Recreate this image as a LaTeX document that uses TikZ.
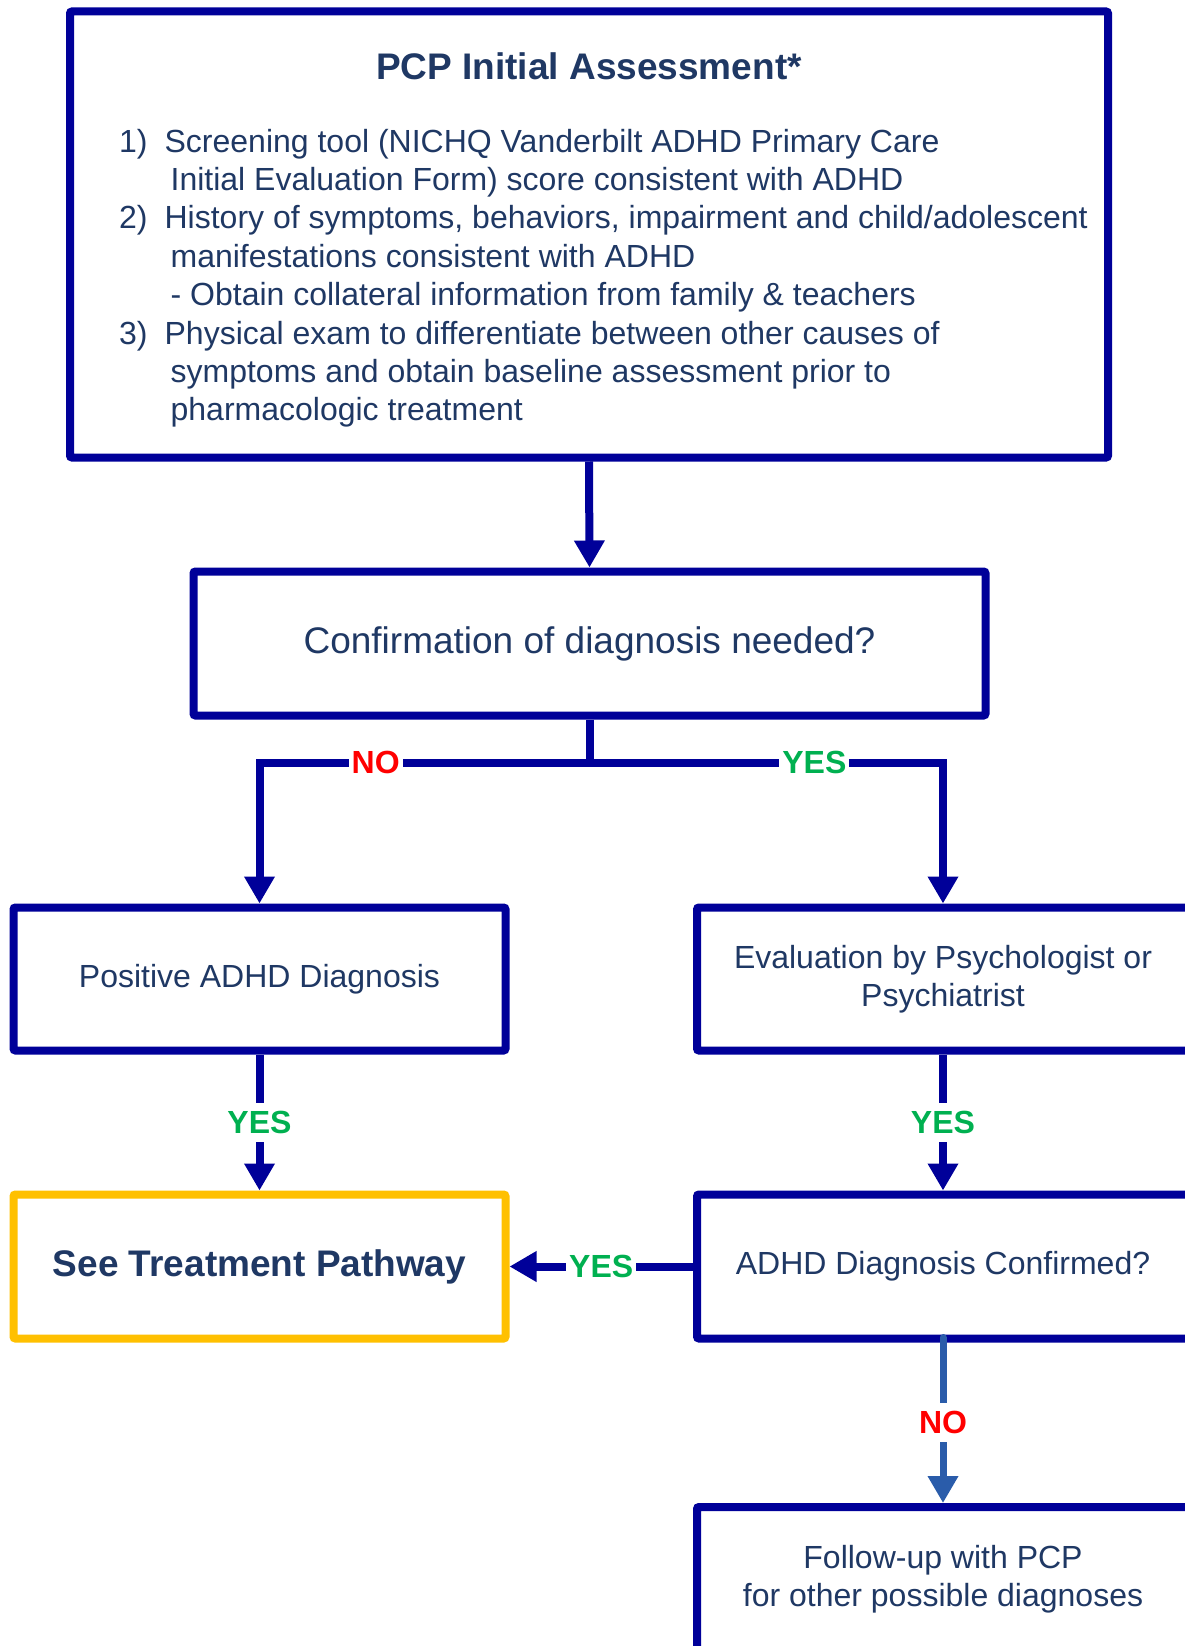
\documentclass[tikz,border=0pt]{standalone}
\usepackage{fontspec}
\setmainfont{Liberation Sans}
\definecolor{pcpnavy}{RGB}{0,0,153}
\definecolor{pcptext}{RGB}{31,56,100}
\definecolor{pcpgreen}{RGB}{0,176,80}
\definecolor{pcpred}{RGB}{255,0,0}
\definecolor{pcporange}{RGB}{255,192,0}
\definecolor{pcpsteel}{RGB}{42,92,170}
\usetikzlibrary{arrows.meta,positioning,calc}
\tikzset{
  box/.style={draw=pcpnavy,line width=8pt,rounded corners=2pt,fill=white,align=center,
    text=pcptext,font=\fontsize{32}{38.4}\selectfont,inner sep=0pt},
  flow/.style={draw=pcpnavy,line width=8pt,-{Triangle[length=27pt,width=29pt]}},
  ans/.style={fill=white,font=\fontsize{32}{38.4}\selectfont\bfseries,inner xsep=3pt,inner ysep=8pt},
}

\begin{document}
\begin{tikzpicture}[x=1pt,y=-1pt]
  \useasboundingbox (0,0) rectangle (1185,1646);
  \clip (0,0) rectangle (1185,1646);

  % assessment box
  \node[box,minimum width=1038pt,minimum height=446pt] (assess) at (589,234.5) {};
  \node[text=pcptext,font=\fontsize{37}{44}\selectfont\bfseries] (title) at (589,66) {PCP Initial Assessment*};
  \node[text=pcptext,font=\fontsize{32}{38.4}\selectfont,inner sep=0pt,anchor=base west] (items) at (119,152) {%
    \begin{tabular}[t]{@{}l@{\hspace{17pt}}l@{}}
      1) & Screening tool (NICHQ Vanderbilt ADHD Primary Care\\
         & \hspace{6pt}Initial Evaluation Form) score consistent with ADHD\\
      2) & History of symptoms, behaviors, impairment and child/adolescent\\
         & \hspace{6pt}manifestations consistent with ADHD\\
         & \hspace{6pt}- Obtain collateral information from family \& teachers\\
      3) & Physical exam to differentiate between other causes of\\
         & \hspace{6pt}symptoms and obtain baseline assessment prior to\\
         & \hspace{6pt}pharmacologic treatment
    \end{tabular}};

  % decision boxes
  \node[box,minimum width=792pt,minimum height=144pt,font=\fontsize{37}{44}\selectfont] (confirm) at (589.5,643.5) {Confirmation of diagnosis needed?};
  \node[box,minimum width=492pt,minimum height=143pt] (positive) at (259.5,979) {Positive ADHD Diagnosis};
  \node[box,minimum width=492pt,minimum height=143pt] (eval) at (943,979) {Evaluation by Psychologist or\\Psychiatrist};
  \node[box,draw=pcporange,minimum width=492pt,minimum height=144pt,font=\fontsize{37}{44}\selectfont\bfseries] (treat) at (259.5,1266.5) {See Treatment Pathway};
  \node[box,minimum width=492pt,minimum height=144pt] (confirmed) at (943,1266.5) {ADHD Diagnosis Confirmed?};
  \node[box,minimum width=492pt,minimum height=144pt] (followup) at (943,1579) {Follow-up with PCP\\for other possible diagnoses};

  % connectors
  \draw[flow] (assess.south) -- (confirm.north);
  \path (confirm.south) ++(0,43) coordinate (split);
  \draw[draw=pcpnavy,line width=8pt] (confirm.south) -- (split);
  \draw[flow] (split) -| node[ans,text=pcpred,pos=0.324] {NO} (positive.north);
  \draw[flow] (split) -| node[ans,text=pcpgreen,pos=0.318] {YES} (eval.north);
  \draw[flow] (positive.south) -- node[ans,text=pcpgreen] {YES} (treat.north);
  \draw[flow] (eval.south) -- node[ans,text=pcpgreen] {YES} (confirmed.north);
  \draw[flow] (confirmed.west) -- node[ans,text=pcpgreen] {YES} (treat.east);
  \draw[flow,draw=pcpsteel,line width=7pt,line cap=round,shorten <=-5pt] (confirmed.south) -- node[ans,text=pcpred] {NO} (followup.north);
\end{tikzpicture}
\end{document}
